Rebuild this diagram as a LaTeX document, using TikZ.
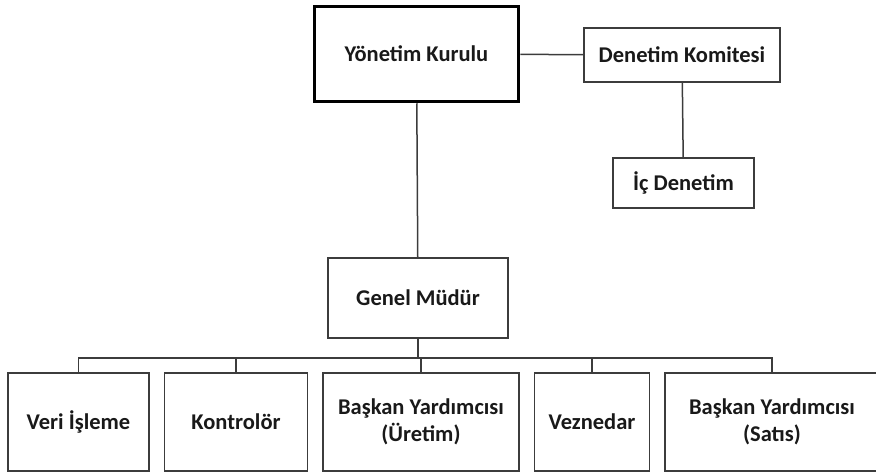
\documentclass[tikz,border=0pt]{standalone}
\usepackage{fontspec}
\setmainfont{Carlito}
\usepackage{tikz}
\usetikzlibrary{positioning}
\definecolor{cizgi}{RGB}{60,60,60}
\tikzset{
  birim/.style={rectangle, draw=cizgi, line width=1.5pt, fill=white,
    minimum height=98pt, align=center, inner sep=2pt,
    font=\bfseries\fontsize{22.5}{27}\selectfont, text=black!90},
  kurul/.style={birim, draw=black, line width=3.5pt},
  hat/.style={line width=1.5pt, color=cizgi}
}

\begin{document}
\begin{tikzpicture}[x=1pt, y=-1pt, node distance=14pt]
  \useasboundingbox (0,0) rectangle (876,474);
  % ust kisim
  \node[kurul, minimum width=204pt, minimum height=95pt] (yk) at (416.5,54) {Yönetim Kurulu};
  \node[birim, minimum width=196pt, minimum height=54pt] (dk) at (682,55) {Denetim Komitesi};
  \node[birim, minimum width=141pt, minimum height=50pt] (ic) at (683.5,183) {İç Denetim};
  \node[birim, minimum width=180pt, minimum height=80pt] (gm) at (418,298) {Genel Müdür};
  % alt birimler
  \node[birim, minimum width=141pt] (veri) at (78.5,422) {Veri İşleme};
  \node[birim, minimum width=143pt, right=of veri] (kontrol) {Kontrolör};
  \node[birim, minimum width=196pt, right=of kontrol] (uretim) {Başkan Yardımcısı\\(Üretim)};
  \node[birim, minimum width=115pt, right=of uretim] (vezne) {Veznedar};
  \node[birim, minimum width=214pt, right=of vezne] (satis) {Başkan Yardımcısı\\(Satıs)};
  \coordinate[below=19pt of gm.south] (bus);
  \draw[hat] (yk) -- (dk);
  \draw[hat] (dk) -- (ic);
  \draw[hat] (yk) -- (gm);
  \draw[hat] (gm) -- (bus);
  \foreach \n in {veri,kontrol,uretim,vezne,satis}
    \draw[hat] (\n.north) |- (bus);
\end{tikzpicture}
\end{document}
